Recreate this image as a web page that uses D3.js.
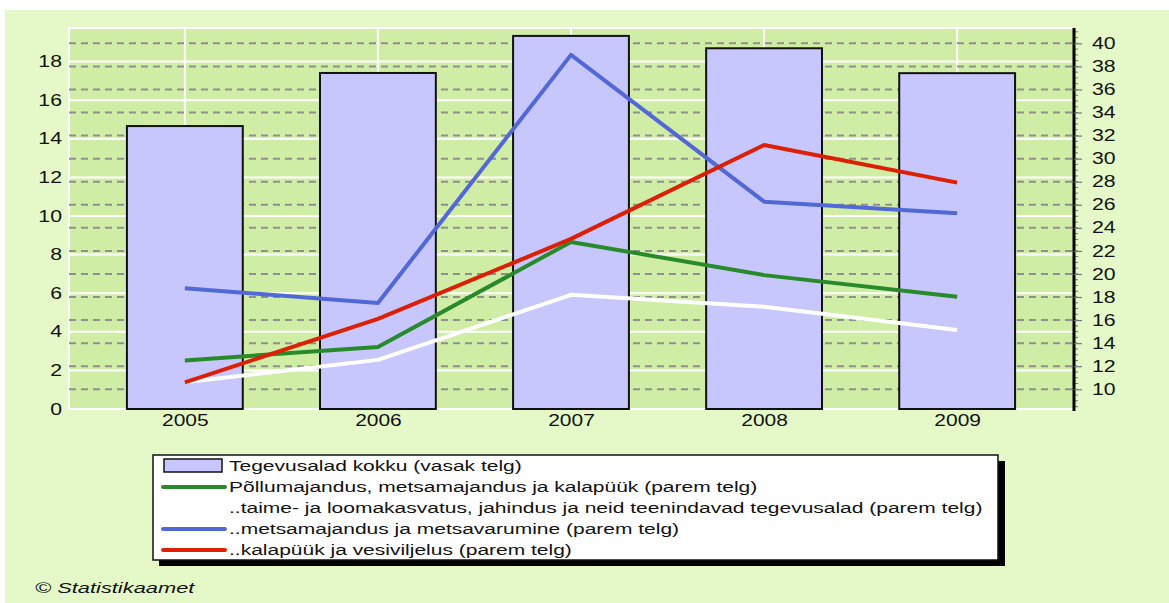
<!DOCTYPE html>
<html><head><meta charset="utf-8">
<script src="https://cdn.jsdelivr.net/npm/d3@7/dist/d3.min.js"></script>
<style>body{margin:0;background:#fff}svg{display:block}text{font-family:"Liberation Sans",Arial,sans-serif;fill:#111}</style>
</head><body><svg id="c" width="1169" height="603"></svg>
<script>
const years = ["2005","2006","2007","2008","2009"];
const totalLeft = [14.66, 17.41, 19.33, 18.69, 17.4];
const pollumajandus = [12.5, 13.67, 22.78, 19.9, 18.03];
const taimeLoomakasvatus = [10.6, 12.55, 18.19, 17.15, 15.15];
const metsamajandus = [18.76, 17.48, 39.0, 26.27, 25.26];
const kalapuuk = [10.6, 16.1, 23.04, 31.19, 27.92];
const leftTicks = [0,2,4,6,8,10,12,14,16,18];
const rightTicks = [10,12,14,16,18,20,22,24,26,28,30,32,34,36,38,40];
const legendLabels = [
  "Tegevusalad kokku (vasak telg)",
  "Põllumajandus, metsamajandus ja kalapüük (parem telg)",
  "..taime- ja loomakasvatus, jahindus ja neid teenindavad tegevusalad (parem telg)",
  "..metsamajandus ja metsavarumine (parem telg)",
  "..kalapüük ja vesiviljelus (parem telg)"
];
const lineSeries = [
  {values: pollumajandus, color: "#288a2a"},
  {values: taimeLoomakasvatus, color: "#ffffff"},
  {values: metsamajandus, color: "#5268d6"},
  {values: kalapuuk, color: "#dd1f05"}
];

function stretch(sel, SX){
  sel.each(function(){
    const t = d3.select(this);
    const xv = +(t.attr("x")||0);
    const prev = t.attr("transform")||"";
    t.attr("x",0).attr("transform",`${prev} translate(${xv},0) scale(${SX},1)`);
  });
}

const svg = d3.select("#c");
const L = 69, R = 1073, T = 28, B = 409;
svg.append("rect").attr("x",5).attr("y",10).attr("width",1164).attr("height",593).attr("fill","#e5f9c8");
svg.append("rect").attr("x",L).attr("y",T).attr("width",R-L).attr("height",B-T).attr("fill","#d0eda6");

const x = d3.scalePoint().domain(years).range([L,R]).padding(0.6);
const yL = d3.scaleLinear().domain([0,19.74]).range([B,T]);
const yR = d3.scaleLinear().domain([8.29,41.33]).range([B,T]);

svg.append("g").selectAll("line").data(leftTicks).join("line")
  .attr("x1",L).attr("x2",R).attr("y1",d=>yL(d)).attr("y2",d=>yL(d))
  .attr("stroke","#fff").attr("stroke-width",2);
svg.append("line").attr("x1",L).attr("x2",R).attr("y1",T).attr("y2",T).attr("stroke","#fff").attr("stroke-width",2);
svg.append("line").attr("x1",L).attr("x2",L).attr("y1",T).attr("y2",B).attr("stroke","#fff").attr("stroke-width",2);
svg.append("g").selectAll("line").data(years).join("line")
  .attr("x1",d=>x(d)).attr("x2",d=>x(d)).attr("y1",T).attr("y2",B)
  .attr("stroke","#fff").attr("stroke-width",2);
svg.append("g").selectAll("line").data(rightTicks).join("line")
  .attr("x1",L).attr("x2",R).attr("y1",d=>yR(d)).attr("y2",d=>yR(d))
  .attr("stroke","#8f8f8f").attr("stroke-width",2).attr("stroke-dasharray","7,5");

const bw = x.step()*0.6;
svg.append("g").selectAll("rect").data(totalLeft).join("rect")
  .attr("x",(d,i)=>x(years[i])-bw/2).attr("width",bw)
  .attr("y",d=>yL(d)).attr("height",d=>B-yL(d))
  .attr("fill","#c7c6fd").attr("stroke","#111").attr("stroke-width",2);

const line = d3.line().x((d,i)=>x(years[i])).y(d=>yR(d));
lineSeries.forEach(s=>{
  svg.append("path").attr("d",line(s.values)).attr("fill","none")
    .attr("stroke",s.color).attr("stroke-width",4).attr("stroke-linejoin","round");
});

const gl = svg.append("g").attr("transform",`translate(${L},0)`)
  .call(d3.axisLeft(yL).tickValues(leftTicks).tickSize(0).tickPadding(7));
gl.select(".domain").remove();
gl.selectAll("text").attr("font-size",16).attr("font-family","Liberation Sans, Arial, sans-serif").attr("fill","#111").call(stretch,1.33);

const minor = d3.range(8.5,41.01,0.5);
const gm = svg.append("g").attr("transform",`translate(${R+1},0)`);
gm.selectAll("line").data(minor).join("line")
  .attr("x1",0).attr("x2",4).attr("y1",d=>yR(d)).attr("y2",d=>yR(d))
  .attr("stroke","#777").attr("stroke-width",1);
const gr = svg.append("g").attr("transform",`translate(${R+1},0)`)
  .call(d3.axisRight(yR).tickValues(rightTicks).tickSize(8).tickPadding(10).tickSizeOuter(0));
gr.select(".domain").attr("stroke","#000").attr("stroke-width",3).attr("d",`M0,${T}V${B+2}`);
gr.selectAll(".tick line").attr("stroke","#777").attr("stroke-width",1.2);
gr.selectAll("text").attr("font-size",16).attr("font-family","Liberation Sans, Arial, sans-serif").attr("fill","#111").call(stretch,1.33);

const gx = svg.append("g").attr("transform",`translate(0,${B})`)
  .call(d3.axisBottom(x).tickSize(0).tickPadding(6));
gx.select(".domain").remove();
gx.selectAll("text").attr("font-size",16).attr("font-family","Liberation Sans, Arial, sans-serif").attr("fill","#111").call(stretch,1.31);

const lg = svg.append("g");
lg.append("rect").attr("x",159).attr("y",461).attr("width",846).attr("height",105).attr("fill","#000");
lg.append("rect").attr("x",153).attr("y",455).attr("width",845).attr("height",105).attr("fill","#fff").attr("stroke","#111").attr("stroke-width",1.5);
const rowY = d3.scalePoint().domain(d3.range(5)).range([466,550]);
lg.append("rect").attr("x",164).attr("y",rowY(0)-7).attr("width",58).attr("height",13)
  .attr("fill","#c7c6fd").attr("stroke","#111").attr("stroke-width",1.5);
lineSeries.forEach((s,i)=>{
  lg.append("line").attr("x1",163).attr("x2",225).attr("y1",rowY(i+1)).attr("y2",rowY(i+1))
    .attr("stroke",s.color).attr("stroke-width",4).attr("stroke-linecap","round");
});
lg.selectAll("text").data(legendLabels).join("text")
  .attr("x",229).attr("y",(d,i)=>rowY(i)).attr("dy","0.35em")
  .attr("font-size",15.5).text(d=>d).call(stretch,1.355);

svg.append("text").attr("x",35).attr("y",588).attr("dy","0.35em")
  .attr("font-size",15.5).attr("font-style","italic").text("© Statistikaamet").call(stretch,1.41);
</script></body></html>
